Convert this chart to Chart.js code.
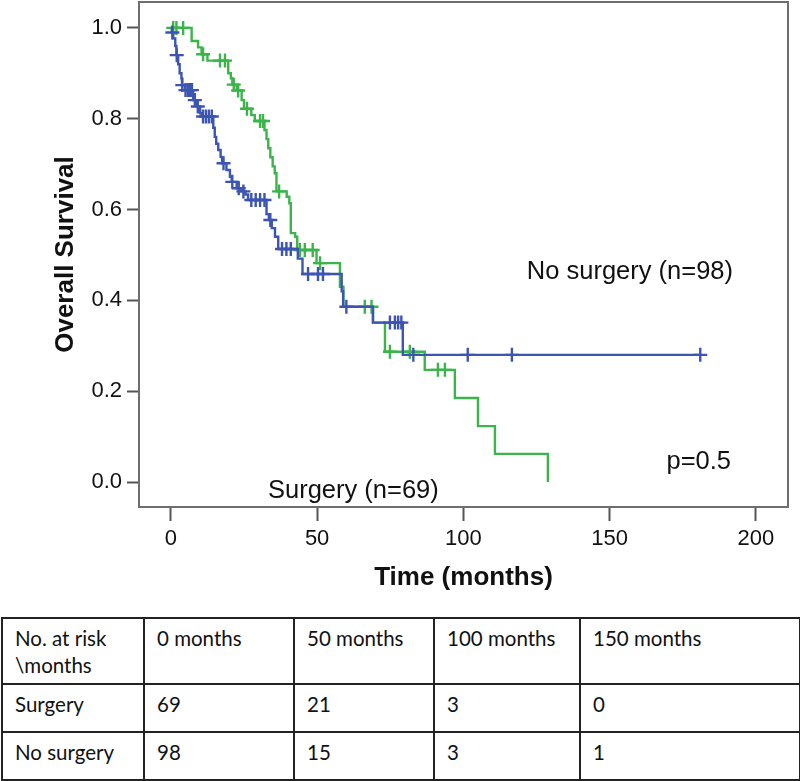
<!DOCTYPE html>
<html><head><meta charset="utf-8">
<script src="https://cdn.jsdelivr.net/npm/chart.js@4.4.1/dist/chart.umd.min.js"></script>
<style>
html,body{margin:0;padding:0;background:#fff;}
#wrap{position:absolute;left:0;top:0;width:800px;height:612px;}
table{position:absolute;left:1px;top:617px;width:798px;table-layout:fixed;border-collapse:collapse;font-family:Lato,'Open Sans',sans-serif;font-size:20.5px;color:#111;}
td{border:2px solid #222;vertical-align:top;padding:6px 12px 0 12px;line-height:27px;white-space:pre-line;overflow:hidden;}
</style></head>
<body>
<div id="wrap"><canvas id="c"></canvas></div>
<table id="risk"><colgroup><col style="width:142px"><col style="width:150px"><col style="width:140px"><col style="width:146px"><col style="width:220px"></colgroup><tbody></tbody></table>
<script>
// ---- data ----
const xTicks = [0, 50, 100, 150, 200];
const yTicks = [0.0, 0.2, 0.4, 0.6, 0.8, 1.0];

// No surgery (n=98) - blue
const noSurgeryTimes = [0, 0.3, 0.8, 1.5, 1.9, 2.5, 3.0, 3.6, 3.8, 4.8, 7.6, 8.8, 10.0, 10.5, 14.5, 15.0, 15.5, 16.2, 17.0, 17.5, 19.0, 20.2, 20.8, 22.5, 24.0, 25.5, 26.4, 32.7, 33.5, 34.5, 35.6, 36.7, 43.4, 45.0, 58.4, 58.9, 69.1, 79.3, 181];
const noSurgerySurv  = [1.0, 0.990, 0.977, 0.960, 0.940, 0.920, 0.900, 0.889, 0.874, 0.863, 0.841, 0.827, 0.812, 0.805, 0.780, 0.760, 0.745, 0.731, 0.716, 0.702, 0.687, 0.672, 0.661, 0.647, 0.640, 0.633, 0.621, 0.590, 0.577, 0.559, 0.540, 0.513, 0.492, 0.458, 0.420, 0.386, 0.351, 0.280, 0.280];
const noSurgeryCensor = [0.5, 2.0, 3.9, 5.0, 5.8, 6.5, 7.2, 8.2, 9.2, 11.0, 12.0, 13.0, 14.0, 18.0, 21.0, 23.2, 24.8, 27.5, 29.0, 30.5, 32.0, 34.0, 38.0, 39.5, 41.0, 46.9, 50.3, 52.0, 60.0, 74.9, 76.6, 77.7, 78.8, 82.9, 101.5, 116.6, 181];

// Surgery (n=69) - green
const surgeryTimes = [0, 7.1, 9.3, 10.5, 12.5, 19.6, 20.5, 21.0, 22.5, 24.2, 25.0, 27.5, 28.7, 32.0, 32.7, 33.3, 34.0, 34.8, 35.5, 36.1, 39.6, 40.5, 41.0, 42.5, 43.2, 49.8, 57.8, 59.0, 69.1, 73.2, 86.8, 97.1, 105.0, 110.8, 128.9];
const surgerySurv  = [1.0, 0.971, 0.957, 0.942, 0.928, 0.900, 0.889, 0.875, 0.862, 0.841, 0.822, 0.808, 0.795, 0.775, 0.755, 0.735, 0.715, 0.695, 0.680, 0.640, 0.628, 0.614, 0.548, 0.540, 0.511, 0.482, 0.430, 0.386, 0.351, 0.287, 0.247, 0.185, 0.123, 0.062, 0.0];
const surgeryCensor = [0.8, 1.9, 4.2, 11.0, 16.8, 18.5, 21.5, 23.0, 26.0, 30.5, 31.5, 37.0, 44.1, 45.8, 48.5, 51.0, 66.3, 68.6, 74.9, 81.7, 91.3, 93.7];

// number at risk table
const riskHeader = ['No. at risk\n\\months', '0 months', '50 months', '100 months', '150 months'];
const riskGroups = ['Surgery', 'No surgery'];
const riskSurgery = [69, 21, 3, 0];
const riskNoSurgery = [98, 15, 3, 1];

// annotations
const notes = [
  {text: 'No surgery (n=98)', x: 121.7, y: 0.463, align: 'left'},
  {text: 'Surgery (n=69)', x: 33.2, y: -0.02, align: 'left'},
  {text: 'p=0.5', x: 180.5, y: 0.044, align: 'center'}
];

// ---- helpers ----
function stepPoints(times, surv) { return times.map((t, i) => ({x: t, y: surv[i]})); }
function survAt(times, surv, t) {
  let s = surv[0];
  for (let i = 0; i < times.length; i++) { if (times[i] <= t) s = surv[i]; }
  return s;
}
function censorPoints(c, times, surv) { return c.map(t => ({x: t, y: survAt(times, surv, t)})); }

const BLUE = '#3d55b2', GREEN = '#3bb54a';
const FONT = '"Liberation Sans", Arial, sans-serif';

const framePlugin = {
  id: 'frame',
  afterDatasetsDraw(chart) {
    const {ctx, chartArea: a, scales} = chart;
    ctx.save();
    ctx.strokeStyle = '#6e6e6e';
    ctx.lineWidth = 2;
    ctx.strokeRect(a.left, a.top, a.right - a.left, a.bottom - a.top);
    ctx.fillStyle = '#111';
    ctx.font = '25.5px ' + FONT;
    ctx.textBaseline = 'middle';
    notes.forEach(n => {
      ctx.textAlign = n.align;
      ctx.fillText(n.text, scales.x.getPixelForValue(n.x), scales.y.getPixelForValue(n.y));
    });
    ctx.restore();
  }
};

new Chart(document.getElementById('c'), {
  type: 'line',
  data: {
    datasets: [
      {label: 'No surgery censored', data: censorPoints(noSurgeryCensor, noSurgeryTimes, noSurgerySurv), showLine: false, pointStyle: 'cross', pointRadius: 7, pointBorderWidth: 2.4, borderColor: BLUE, backgroundColor: BLUE},
      {label: 'No surgery', data: stepPoints(noSurgeryTimes, noSurgerySurv), stepped: 'before', borderColor: BLUE, borderWidth: 2.4, pointRadius: 0, fill: false},
      {label: 'Surgery censored', data: censorPoints(surgeryCensor, surgeryTimes, surgerySurv), showLine: false, pointStyle: 'cross', pointRadius: 7, pointBorderWidth: 2.4, borderColor: GREEN, backgroundColor: GREEN},
      {label: 'Surgery', data: stepPoints(surgeryTimes, surgerySurv), stepped: 'before', borderColor: GREEN, borderWidth: 2.4, pointRadius: 0, fill: false}
    ]
  },
  options: {
    responsive: true, maintainAspectRatio: false, animation: false,
    layout: {autoPadding: false, padding: {left: 0, right: 12, top: 2, bottom: 0}},
    plugins: {legend: {display: false}, tooltip: {enabled: false}},
    elements: {line: {tension: 0}},
    scales: {
      x: {
        type: 'linear', min: -10.9, max: 211,
        afterFit(s) { s.height = 105; s.paddingLeft = 0; s.paddingRight = 0; },
        afterBuildTicks(s) { s.ticks = xTicks.map(v => ({value: v})); },
        grid: {drawOnChartArea: false, drawTicks: true, tickLength: 14, tickColor: '#555', tickWidth: 2},
        border: {display: false},
        ticks: {font: {family: FONT, size: 22}, color: '#111', padding: 5, maxRotation: 0, callback: v => String(v)},
        title: {display: true, text: 'Time (months)', font: {family: FONT, size: 26, weight: 'bold'}, color: '#111', padding: {top: 0, bottom: 19}}
      },
      y: {
        type: 'linear', min: -0.055, max: 1.057,
        afterFit(s) { s.width = 139; s.paddingTop = 0; s.paddingBottom = 0; },
        afterBuildTicks(s) { s.ticks = yTicks.map(v => ({value: v})); },
        grid: {drawOnChartArea: false, drawTicks: true, tickLength: 12, tickColor: '#555', tickWidth: 2},
        border: {display: false},
        ticks: {font: {family: FONT, size: 22}, color: '#111', padding: 5, callback: v => Number(v).toFixed(1)},
        title: {display: true, text: 'Overall Survival', font: {family: FONT, size: 26, weight: 'bold'}, color: '#111', padding: {top: 50, bottom: 0}}
      }
    }
  },
  plugins: [framePlugin]
});

// build the table
const tbody = document.querySelector('#risk tbody');
function addRow(cells, h) {
  const tr = document.createElement('tr');
  tr.style.height = h + 'px';
  cells.forEach(c => { const td = document.createElement('td'); td.textContent = String(c); tr.appendChild(td); });
  tbody.appendChild(tr);
}
addRow(riskHeader, 66);
addRow([riskGroups[0]].concat(riskSurgery), 48);
addRow([riskGroups[1]].concat(riskNoSurgery), 48);
</script>
</body></html>
